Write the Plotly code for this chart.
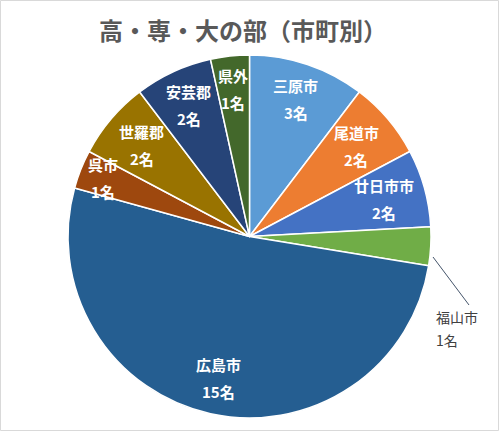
import math
import plotly.graph_objects as go

# ---- data ----
areas = ["三原市", "尾道市", "廿日市市", "福山市", "広島市", "呉市", "世羅郡", "安芸郡", "県外"]
counts = [3, 2, 2, 1, 15, 1, 2, 2, 1]
unit = "名"
title_text = "高・専・大の部（市町別）"

# ---- style ----
colors = ["#5B9BD5", "#ED7D31", "#4472C4", "#70AD47", "#255E91",
          "#9E480E", "#997300", "#264478", "#43682B"]
label_radius = [0.80, 0.77, 0.77, None, 0.80, 0.87, 0.78, 0.80, 0.82]
W, H = 500, 431
FONT = "Noto Sans CJK JP"

# pie placement (pixels)
left, right, top, bottom = 67, 432, 55, 418
cx, cy = (left + right) / 2, (top + bottom) / 2
R = min(right - left, bottom - top) / 2

fig = go.Figure(go.Pie(
    labels=areas,
    values=counts,
    sort=False,
    direction="clockwise",
    rotation=0,
    marker=dict(colors=colors, line=dict(color="white", width=1.5)),
    textinfo="none",
    hoverinfo="label+value",
    domain=dict(x=[left / W, right / W], y=[1 - bottom / H, 1 - top / H]),
    showlegend=False,
))

def px(x):
    return x / W

def py(y):
    return 1 - y / H

annotations = []
total = sum(counts)
cum = 0
for name, c, f in zip(areas, counts, label_radius):
    mid = (cum + c / 2) / total * 2 * math.pi
    cum += c
    if f is None:
        continue
    mx = cx + f * R * math.sin(mid)
    my = cy - f * R * math.cos(mid)
    for text, dy in ((name, -13.5), (f"{c}{unit}", 13.5)):
        annotations.append(dict(
            x=px(mx), y=py(my + dy), xref="paper", yref="paper",
            text=f"<b>{text}</b>", showarrow=False,
            font=dict(family=FONT, size=15, color="white"),
            xanchor="center", yanchor="middle",
        ))

# outside label for the small slice (福山市)
idx = areas.index("福山市")
annotations.append(dict(x=px(434), y=py(317), xref="paper", yref="paper",
                        text=areas[idx], showarrow=False,
                        font=dict(family=FONT, size=14, color="#404040"),
                        xanchor="left", yanchor="middle"))
annotations.append(dict(x=px(434), y=py(340), xref="paper", yref="paper",
                        text=f"{counts[idx]}{unit}", showarrow=False,
                        font=dict(family=FONT, size=14, color="#404040"),
                        xanchor="left", yanchor="middle"))

# title
annotations.append(dict(x=px(243), y=py(30), xref="paper", yref="paper",
                        text=f"<b>{title_text}</b>", showarrow=False,
                        font=dict(family=FONT, size=24, color="#595959"),
                        xanchor="center", yanchor="middle"))

shapes = [
    dict(type="line", xref="paper", yref="paper",
         x0=px(433), y0=py(257), x1=px(469), y1=py(305),
         line=dict(color="#44546A", width=1)),
    dict(type="rect", xref="paper", yref="paper",
         x0=px(0.5), y0=py(430.5), x1=px(498.5), y1=py(0.5),
         line=dict(color="#D9D9D9", width=1)),
]

fig.update_layout(
    width=W, height=H,
    margin=dict(l=0, r=0, t=0, b=0),
    paper_bgcolor="white", plot_bgcolor="white",
    annotations=annotations, shapes=shapes,
    font=dict(family=FONT),
)

fig.write_html("out.html",
               config={"displayModeBar": False},
               post_script="document.body.style.margin='0';document.body.style.overflow='hidden';")
